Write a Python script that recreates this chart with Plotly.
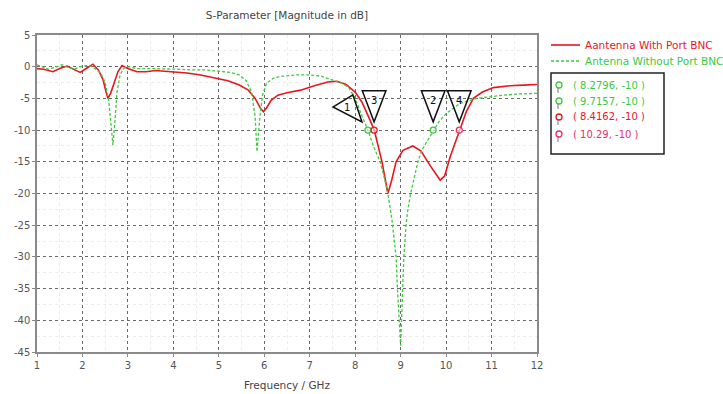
import plotly.graph_objects as go

# ---- data ----
freq_with = [1.00, 1.15, 1.35, 1.50, 1.66, 1.80, 1.95, 2.10, 2.23, 2.35, 2.45, 2.52, 2.56, 2.62, 2.70,
             2.78, 2.87, 3.00, 3.20, 3.40, 3.60, 3.80, 4.00, 4.30, 4.60, 4.90, 5.20, 5.45, 5.65, 5.80,
             5.92, 5.98, 6.05, 6.15, 6.30, 6.50, 6.80, 7.10, 7.40, 7.60, 7.80, 8.00, 8.15, 8.30, 8.42,
             8.59, 8.66, 8.72, 8.80, 8.90, 9.05, 9.27, 9.45, 9.65, 9.87, 9.97, 10.09, 10.29, 10.45, 10.60,
             10.80, 11.04, 11.40, 11.70, 12.00]
db_with = [-0.3, -0.4, -0.8, -0.3, 0.1, -0.4, -0.9, -0.2, 0.4, -0.5, -2.0, -4.0, -5.0, -4.2, -2.5,
           -0.8, 0.2, -0.3, -0.8, -0.8, -0.6, -0.7, -0.8, -1.0, -1.3, -1.7, -2.2, -2.9, -3.7, -5.0,
           -6.6, -7.1, -6.5, -5.3, -4.5, -4.1, -3.7, -3.0, -2.4, -2.3, -2.8, -4.0, -5.6, -8.0, -10.0,
           -15.0, -18.0, -20.0, -18.0, -15.0, -13.2, -12.5, -13.3, -15.6, -17.9, -17.2, -14.2, -10.0, -7.0, -5.0,
           -4.0, -3.3, -3.0, -2.9, -2.8]

freq_without = [1.00, 1.10, 1.25, 1.40, 1.55, 1.70, 1.85, 2.00, 2.15, 2.28, 2.40, 2.50, 2.58, 2.64, 2.67,
                2.71, 2.76, 2.83, 2.92, 3.00, 3.20, 3.50, 3.80, 4.10, 4.40, 4.70, 5.00, 5.25, 5.45, 5.60,
                5.72, 5.80, 5.84, 5.89, 5.96, 6.05, 6.20, 6.40, 6.70, 7.00, 7.25, 7.50, 7.70, 7.85, 8.00,
                8.15, 8.28, 8.40, 8.55, 8.64, 8.72, 8.81, 8.86, 8.90, 8.93, 8.97, 9.00, 9.02, 9.04, 9.07,
                9.12, 9.15, 9.22, 9.30, 9.38, 9.47, 9.60, 9.72, 9.85, 10.00, 10.30, 10.68, 11.00, 11.25,
                11.60, 12.00]
db_without = [0.3, 0.0, -0.4, -0.1, 0.3, -0.2, -0.3, 0.1, 0.2, -0.3, -1.0, -2.5, -5.5, -10.0, -12.4,
              -9.0, -4.0, -1.2, -0.2, 0.0, -0.3, -0.3, -0.3, -0.4, -0.5, -0.5, -0.7, -0.9, -1.3, -2.2,
              -4.0, -8.0, -13.4, -9.0, -4.5, -2.6, -1.8, -1.5, -1.3, -1.3, -1.5, -2.1, -2.6, -3.2, -5.0,
              -7.8, -10.0, -12.5, -15.0, -17.5, -20.0, -24.2, -27.0, -30.0, -35.0, -40.0, -44.0, -40.0, -35.0, -30.0,
              -25.0, -23.0, -20.0, -17.5, -15.0, -13.1, -11.5, -10.0, -8.6, -7.4, -5.8, -5.0, -4.7, -4.5,
              -4.3, -4.2]

series_names = ["Aantenna With Port BNC", "Antenna Without Port BNC"]

marker_ids = ["1", "2", "3", "4"]
marker_freq = [8.2796, 9.7157, 8.4162, 10.29]
marker_db = [-10, -10, -10, -10]
marker_labels = ["( 8.2796, -10 )", "( 9.7157, -10 )", "( 8.4162, -10 )", "( 10.29, -10 )"]

x_ticks = list(range(1, 13))
y_ticks = list(range(5, -46, -5))

RED = "#e8161f"
GREEN = "#40c840"
PINK = "#e8306a"
marker_colors = [GREEN, GREEN, RED, PINK]
GREEN_DASH = "3px,2px"
FONT = "DejaVu Sans"

fig = go.Figure()
fig.add_trace(go.Scatter(
    x=freq_with, y=db_with, mode="lines", name=series_names[0], showlegend=False,
    line=dict(color=RED, width=1.6)))
fig.add_trace(go.Scatter(
    x=freq_without, y=db_without, mode="lines", name=series_names[1], showlegend=False,
    line=dict(color=GREEN, width=1.3, dash=GREEN_DASH)))
fig.add_trace(go.Scatter(
    x=marker_freq, y=marker_db, mode="markers", showlegend=False,
    marker=dict(symbol="circle", size=6, color="rgba(255,255,255,0.6)",
                line=dict(color=marker_colors, width=1.3))))

# triangle markers (pointing at marker points)
shapes = []
annotations = []
for mid, fx, fy in zip(marker_ids, marker_freq, marker_db):
    if mid == "1":
        pts = [(fx - 0.77, fy + 3.64), (fx - 0.33, fy + 5.54), (fx - 0.13, fy + 1.28)]
        lx, ly = fx - 0.45, fy + 3.5
    else:
        pts = [(fx, fy + 1.3), (fx - 0.26, fy + 6.2), (fx + 0.26, fy + 6.2)]
        lx, ly = fx, fy + 4.7
    path = "M {} {} L {} {} L {} {} Z".format(*[v for p in pts for v in p])
    shapes.append(dict(type="path", path=path, xref="x", yref="y",
                       line=dict(color="#111111", width=1.5), fillcolor="rgba(0,0,0,0)"))
    annotations.append(dict(x=lx, y=ly, xref="x", yref="y", text=mid, showarrow=False,
                            font=dict(size=10, color="#111111", family=FONT)))

L, R, T, B = 37, 537, 35, 352
def px(xp):
    return (xp - L) / (R - L)
def py(yp):
    return (B - yp) / (B - T)

# legend (drawn)
leg_y = [45, 61]
leg_col = [RED, GREEN]
leg_dash = ["solid", GREEN_DASH]
leg_w = [1.6, 1.3]
for nm, yy, col, dsh, w in zip(series_names, leg_y, leg_col, leg_dash, leg_w):
    shapes.append(dict(type="line", xref="paper", yref="paper",
                       x0=px(551), x1=px(580), y0=py(yy), y1=py(yy),
                       line=dict(color=col, width=w, dash=dsh)))
    annotations.append(dict(x=px(583), y=py(yy), xref="paper", yref="paper", text=nm,
                            showarrow=False, xanchor="left", yanchor="middle",
                            font=dict(size=10.5, color=col, family=FONT)))

# marker readout box
shapes.append(dict(type="rect", xref="paper", yref="paper",
                   x0=px(551), x1=px(664), y0=py(154), y1=py(73),
                   line=dict(color="#222222", width=1.5), fillcolor="rgba(0,0,0,0)"))
row_y = [85, 101, 117, 134]
for lab, col, ry in zip(marker_labels, marker_colors, row_y):
    shapes.append(dict(type="circle", xref="paper", yref="paper",
                       x0=px(556), x1=px(562), y0=py(ry + 3), y1=py(ry - 3),
                       line=dict(color=col, width=1.3)))
    shapes.append(dict(type="line", xref="paper", yref="paper",
                       x0=px(558), x1=px(558), y0=py(ry + 8), y1=py(ry + 3),
                       line=dict(color="#777777", width=1)))
    annotations.append(dict(x=px(571), y=py(ry), xref="paper", yref="paper", text=lab,
                            showarrow=False, xanchor="left", yanchor="middle",
                            font=dict(size=10, color=col, family=FONT)))

axis_common = dict(showline=True, linecolor="#8a8a8a", linewidth=1.5, mirror=True,
                   showgrid=True, gridcolor="#6a6a6a", griddash="dot", gridwidth=1,
                   zeroline=False, ticks="outside", ticklen=3, tickcolor="#8a8a8a",
                   automargin=False,
                   tickfont=dict(size=10, color="#555555", family=FONT))

fig.update_layout(
    width=723, height=394,
    margin=dict(l=L, r=723 - R, t=T, b=394 - B),
    paper_bgcolor="white", plot_bgcolor="white",
    showlegend=False,
    font=dict(family=FONT, size=10, color="#555555"),
    title=dict(text="S-Parameter [Magnitude in dB]", x=0.5, xref="paper", xanchor="center",
               y=1 - 15 / 394, yref="container", yanchor="middle",
               font=dict(size=10.5, color="#444444", family=FONT)),
    xaxis=dict(range=[1, 12], tickvals=x_ticks, ticktext=[str(v) for v in x_ticks],
               title=dict(text="Frequency / GHz", standoff=12,
                          font=dict(size=10.5, color="#444444", family=FONT)),
               minor=dict(dtick=0.5, showgrid=True, gridcolor="#ececec", griddash="dot"),
               **axis_common),
    yaxis=dict(range=[-45, 5], tickvals=y_ticks, ticktext=[str(v) for v in y_ticks],
               minor=dict(dtick=2.5, showgrid=True, gridcolor="#ececec", griddash="dot"),
               **axis_common),
    shapes=shapes, annotations=annotations,
)

fig.write_html("out.html", config={"displayModeBar": False},
               post_script="document.body.style.margin='0px';")
